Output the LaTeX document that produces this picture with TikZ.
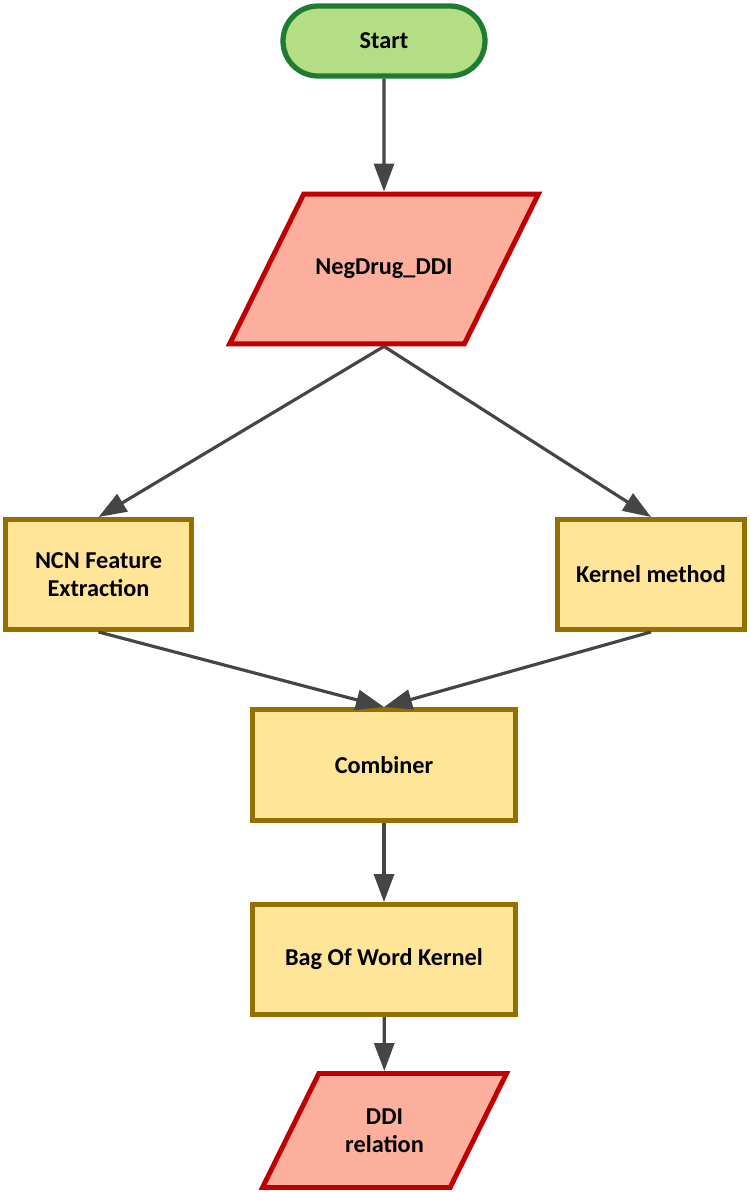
\documentclass[tikz,border=0pt]{standalone}
\usepackage{fontspec}
\setmainfont{Carlito}
\usetikzlibrary{arrows.meta,shapes.geometric}
\definecolor{startfill}{HTML}{B3DE84}
\definecolor{startline}{HTML}{1E7B32}
\definecolor{iofill}{HTML}{FDAF9D}
\definecolor{ioline}{HTML}{C00000}
\definecolor{procfill}{HTML}{FFE597}
\definecolor{procline}{HTML}{937000}
\definecolor{arrowgray}{HTML}{454545}
\begin{document}
\begin{tikzpicture}[
    font = \fontsize{6.9}{8}\selectfont\bfseries,
    terminal/.style = {draw = startline, fill = startfill, line width = 1.5pt,
        rounded corners = 0.35cm, minimum width = 2.02cm, minimum height = 0.70cm},
    io/.style = {trapezium, trapezium left angle = 63.7, trapezium right angle = 116.3,
        trapezium stretches body, draw = ioline, fill = iofill, line width = 1.4pt},
    process/.style = {rectangle, draw = procline, fill = procfill, line width = 1.4pt,
        align = center},
    flow/.style = {draw = arrowgray, line width = 0.9pt,
        -{Triangle[length = 0.28cm, width = 0.2cm]}}
    ]
        \useasboundingbox (0,0) rectangle (7.5,-11.92);
        % 図形
        \node[terminal](start)at(3.84,-0.41){Start};
        \node[io, inner ysep = 0.65cm, minimum width = 2.99cm](neg)at(3.84,-2.69){NegDrug\_DDI};
        \node[process, minimum width = 1.86cm, minimum height = 1.10cm](ncn)at(0.985,-5.745){NCN Feature\\Extraction};
        \node[process, minimum width = 1.87cm, minimum height = 1.10cm](kern)at(6.51,-5.745){Kernel method};
        \node[process, minimum width = 2.63cm, minimum height = 1.11cm](comb)at(3.84,-7.65){Combiner};
        \node[process, minimum width = 2.63cm, minimum height = 1.10cm](bag)at(3.84,-9.595){Bag Of Word Kernel};
        \node[io, inner ysep = 0.35cm, minimum width = 2.44cm, align = center](ddi)at(3.845,-11.305){DDI\\relation};
        % 矢印
        \draw[flow](start)to(neg);
        \draw[flow](neg.south)to(ncn.north);
        \draw[flow](neg.south)to(kern.north);
        \draw[flow](ncn.south)to(comb.north);
        \draw[flow](kern.south)to(comb.north);
        \draw[flow](comb)to(bag);
        \draw[flow](bag)to(ddi);
    \end{tikzpicture}
\end{document}
